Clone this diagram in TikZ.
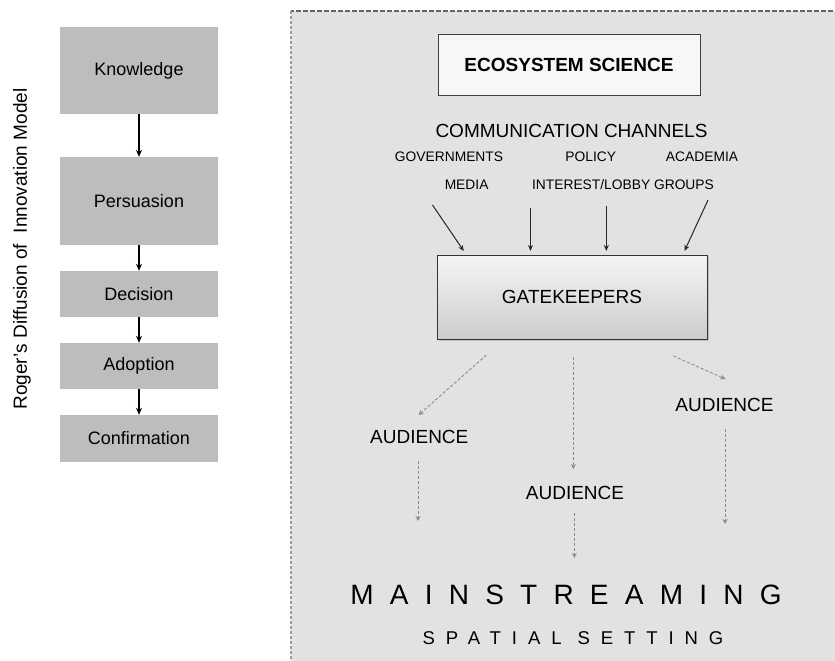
\documentclass[tikz,border=0pt]{standalone}
\usepackage{fontspec}
\setmainfont{Liberation Sans}
\usetikzlibrary{arrows.meta,shadows}
\definecolor{panelgray}{HTML}{E2E2E2}
\definecolor{boxgray}{HTML}{BDBDBD}
\definecolor{dashgray}{HTML}{8A8A8A}
\begin{document}
\begin{tikzpicture}[x=1pt,y=-1pt,
  stage/.style={fill=boxgray,minimum width=158pt,inner sep=0pt,font=\fontsize{18}{21}\selectfont},
  flow/.style={-{Stealth[length=7pt,width=6pt]},line width=1.4pt,black},
  chan/.style={-{Stealth[length=6pt,width=5pt]},line width=1pt,black!85},
  aud/.style={-{Stealth[length=5pt,width=5pt]},line width=0.9pt,dashgray,dash pattern=on 3pt off 2pt},
  small/.style={font=\fontsize{13.8}{16}\selectfont,inner sep=0pt},
  mid/.style={font=\fontsize{19}{22}\selectfont,inner sep=0pt}]
\useasboundingbox (0,0) rectangle (835,661);
% panel
\fill[panelgray] (291,11) rectangle (840,670);
\draw[line width=1.6pt,black!60,dash pattern=on 5pt off 2pt] (840,11) -- (291,11);
\draw[line width=1.6pt,black!40,dash pattern=on 3pt off 2pt] (291,11) -- (291,670);
% left column
\node[rotate=90,font=\fontsize{19}{22}\selectfont,inner sep=0pt] (title) at (22,249) {Roger's Diffusion of\ \ Innovation Model};
\node[stage,minimum height=87pt] (k) at (139,70.5) {Knowledge};
\node[stage,minimum height=88pt] (p) at (139,201) {Persuasion};
\node[stage,minimum height=46pt] (d) at (139,294) {Decision};
\node[stage,minimum height=46pt] (a) at (139,366) {Adoption};
\node[stage,minimum height=47pt] (c) at (139,438.5) {Confirmation};
\draw[flow] (k.south) -- (p.north);
\draw[flow] (p.south) -- (d.north);
\draw[flow] (d.south) -- (a.north);
\draw[flow] (a.south) -- (c.north);
% right panel
\node[draw=black!75,line width=1pt,fill=gray!6,minimum width=262pt,minimum height=61pt,inner sep=0pt,
  font=\bfseries\fontsize{19}{22}\selectfont] (eco) at (569,65) {ECOSYSTEM SCIENCE};
\node[mid] (cc) at (571.5,131) {COMMUNICATION CHANNELS};
\node[small] (gov) at (449,157) {GOVERNMENTS};
\node[small] (pol) at (590.7,157) {POLICY};
\node[small] (aca) at (702,157) {ACADEMIA};
\node[small] (med) at (466.6,185) {MEDIA};
\node[small] (int) at (623,185) {INTEREST/LOBBY GROUPS};
\node[draw=black!80,line width=1pt,top color=gray!8,bottom color=gray!40,
  drop shadow={shadow xshift=1.5pt,shadow yshift=-1.5pt,opacity=0.35},
  minimum width=270pt,minimum height=84pt,inner sep=0pt,font=\fontsize{19}{22}\selectfont] (gate) at (572,297) {GATEKEEPERS};
\coordinate (s1) at (432.5,205); \coordinate (e1) at (463.8,251);
\coordinate (s2) at (530.5,208); \coordinate (e2) at (530.5,251);
\coordinate (s3) at (606.3,206); \coordinate (e3) at (606.3,251);
\coordinate (s4) at (708,200);   \coordinate (e4) at (684.5,251);
\draw[chan] (s1) -- (e1);
\draw[chan] (s2) -- (e2);
\draw[chan] (s3) -- (e3);
\draw[chan] (s4) -- (e4);
\node[mid] (audl) at (419.3,437) {AUDIENCE};
\node[mid] (audm) at (575,493) {AUDIENCE};
\node[mid] (audr) at (724.5,405) {AUDIENCE};
\coordinate (ga) at (486.4,355); \coordinate (ta) at (418.6,415);
\coordinate (gb) at (573.3,357); \coordinate (tb) at (573.3,469);
\coordinate (gc) at (673.4,356); \coordinate (tc) at (725.5,379);
\draw[aud] (ga) -- (ta);
\draw[aud] (gb) -- (tb);
\draw[aud] (gc) -- (tc);
\coordinate (la) at (418,461); \coordinate (lb) at (418,521);
\coordinate (ma) at (574.3,513); \coordinate (mb) at (574.3,558);
\coordinate (ra) at (725,429); \coordinate (rb) at (725,524);
\draw[aud] (la) -- (lb);
\draw[aud] (ma) -- (mb);
\draw[aud] (ra) -- (rb);
\node[inner sep=0pt,font=\fontsize{28}{32}\selectfont\addfontfeatures{LetterSpace=58}] (main) at (566,595) {MAINSTREAMING};
\node[inner sep=0pt,font=\fontsize{18.5}{22}\selectfont\addfontfeatures{LetterSpace=59}] (spat) at (573,638) {SPATIAL SETTING};
\end{tikzpicture}
\end{document}
